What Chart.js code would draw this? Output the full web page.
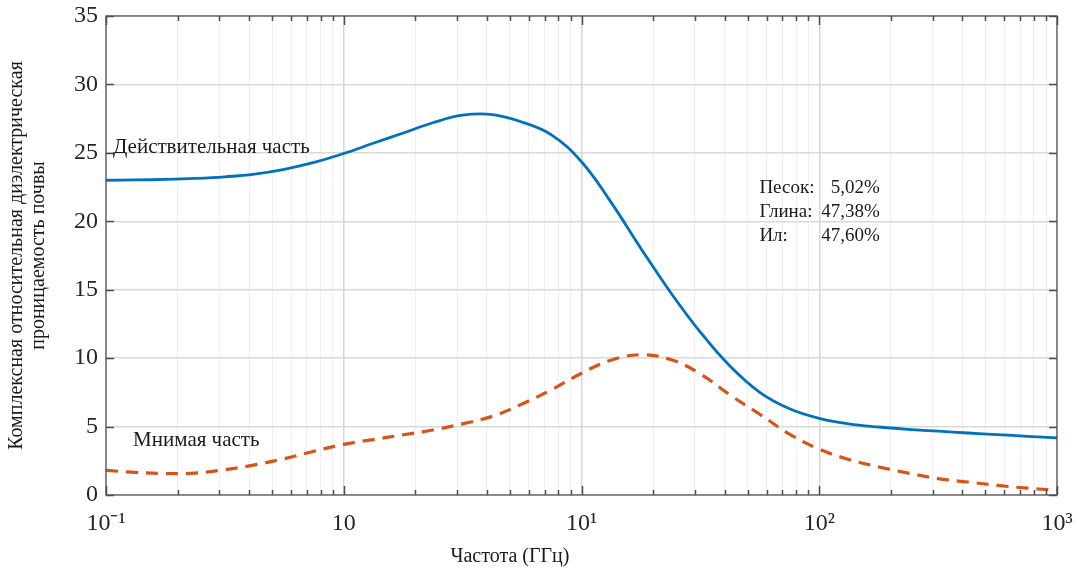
<!DOCTYPE html>
<html lang="ru">
<head>
<meta charset="utf-8">
<title>Диэлектрическая проницаемость почвы</title>
<script src="https://cdn.jsdelivr.net/npm/chart.js@4.4.0/dist/chart.umd.min.js"></script>
<style>
  html, body { margin: 0; padding: 0; background: #fff; }
  #chart { display: block; }
</style>
</head>
<body>
<canvas id="chart" width="1078" height="575"></canvas>
<script>
const freq = [0.1, 0.133, 0.178, 0.237, 0.316, 0.422, 0.562, 0.75, 1, 1.33, 1.78, 2.37, 3.16, 4.22, 5.62, 7.5,
  10, 13.3, 17.8, 23.7, 31.6, 42.2, 56.2, 75, 100, 133, 178, 237, 316, 422, 562, 750, 1000]
const realPart = [23.0, 23.02, 23.06, 23.13, 23.25, 23.45, 23.8, 24.3, 24.95, 25.7, 26.45, 27.2, 27.75, 27.8, 27.25, 26.3,
  24.35, 21.4, 18.0, 14.8, 11.9, 9.4, 7.5, 6.3, 5.6, 5.2, 4.97, 4.8, 4.66, 4.53, 4.41, 4.29, 4.17]
const imagPart = [1.8, 1.65, 1.57, 1.6, 1.85, 2.2, 2.65, 3.2, 3.7, 4.05, 4.4, 4.75, 5.2, 5.75, 6.65, 7.7,
  8.9, 9.85, 10.25, 9.9, 8.85, 7.3, 5.9, 4.45, 3.35, 2.6, 2.05, 1.6, 1.2, 0.95, 0.7, 0.5, 0.35]

const yTicks = [0, 5, 10, 15, 20, 25, 30, 35]
// подписи декад как на исходнике (у 10^0 стоит просто "10")
const xDecades = [0.1, 1, 10, 100, 1000]
const xDecadeLabels = ['10⁻¹', '10', '10¹', '10²', '10³']

const yTitle = ['Комплексная относительная диэлектрическая', 'проницаемость почвы']
const xTitle = 'Частота (ГГц)'

const soilNames = ['Песок:', 'Глина:', 'Ил:']
const soilValues = ['5,02%', '47,38%', '47,60%']

const serif = '"Liberation Serif", "Times New Roman", serif'

function toPoints(xs, ys) {
  return xs.map((x, i) => ({ x: x, y: ys[i] }))
}

function allLogTicks() {
  const res = []
  for (let d = -1; d < 3; d++) {
    for (let m = 1; m < 10; m++) {
      res.push({ value: +(m * Math.pow(10, d)).toPrecision(6), major: m === 1 })
    }
  }
  res.push({ value: 1000, major: true })
  return res
}

// рамка и внутренние засечки как в MATLAB
const boxPlugin = {
  id: 'boxPlugin',
  afterDraw(chart) {
    const { ctx, chartArea: a, scales } = chart
    ctx.save()
    ctx.strokeStyle = '#4d4d4d'
    ctx.lineWidth = 1.2
    ctx.strokeRect(a.left, a.top, a.right - a.left, a.bottom - a.top)
    ctx.beginPath()
    scales.x.ticks.forEach((t) => {
      const px = Math.round(scales.x.getPixelForValue(t.value)) + 0.5
      const len = t.major ? 9 : 5
      ctx.moveTo(px, a.bottom); ctx.lineTo(px, a.bottom - len)
      ctx.moveTo(px, a.top); ctx.lineTo(px, a.top + len)
    })
    scales.y.ticks.forEach((t) => {
      const py = Math.round(scales.y.getPixelForValue(t.value)) + 0.5
      ctx.moveTo(a.left, py); ctx.lineTo(a.left + 8, py)
      ctx.moveTo(a.right, py); ctx.lineTo(a.right - 8, py)
    })
    ctx.lineWidth = 1.5
    ctx.stroke()
    ctx.restore()
  }
}

// подписи кривых, состав почвы и заголовок оси X
const textPlugin = {
  id: 'textPlugin',
  afterDraw(chart) {
    const { ctx, scales } = chart
    const x = scales.x, y = scales.y
    ctx.save()
    ctx.fillStyle = '#1a1a1a'
    ctx.textBaseline = 'middle'
    ctx.textAlign = 'left'
    ctx.font = '21px ' + serif
    ctx.fillText('Действительная часть', x.getPixelForValue(0.107), y.getPixelForValue(25.4))
    ctx.fillText('Мнимая часть', x.getPixelForValue(0.13), y.getPixelForValue(4.0))

    ctx.font = '19px ' + serif
    const rows = [22.4, 20.65, 18.9]
    soilNames.forEach((name, i) => {
      ctx.textAlign = 'left'
      ctx.fillText(name, x.getPixelForValue(56), y.getPixelForValue(rows[i]))
      ctx.textAlign = 'right'
      ctx.fillText(soilValues[i], x.getPixelForValue(180), y.getPixelForValue(rows[i]))
    })

    ctx.textAlign = 'center'
    ctx.font = '20px ' + serif
    ctx.fillText(xTitle, x.getPixelForValue(5.0), 557)
    ctx.restore()
  }
}

new Chart(document.getElementById('chart'), {
  type: 'line',
  data: {
    datasets: [
      {
        label: 'Действительная часть',
        data: toPoints(freq, realPart),
        borderColor: '#0072BD',
        borderWidth: 2.8,
        pointRadius: 0,
        tension: 0.4,
      },
      {
        label: 'Мнимая часть',
        data: toPoints(freq, imagPart),
        borderColor: '#D95319',
        borderWidth: 3.2,
        borderDash: [12, 8],
        pointRadius: 0,
        tension: 0.4,
      },
    ],
  },
  options: {
    responsive: false,
    animation: false,
    devicePixelRatio: 1,
    layout: { padding: { left: 0, right: 21, top: 16, bottom: 0 } },
    plugins: {
      legend: { display: false },
      tooltip: { enabled: false },
    },
    scales: {
      x: {
        type: 'logarithmic',
        min: 0.1,
        max: 1000,
        afterBuildTicks: (scale) => { scale.ticks = allLogTicks() },
        afterFit: (scale) => {
          scale.height = 80
          scale.paddingLeft = 0
          scale.paddingRight = 0
        },
        border: { display: false },
        grid: {
          drawTicks: false,
          color: (c) => (c.tick && c.tick.major ? '#d6d6d6' : '#efefef'),
          lineWidth: (c) => (c.tick && c.tick.major ? 1.5 : 1),
        },
        ticks: {
          autoSkip: false,
          maxRotation: 0,
          padding: 14,
          color: '#262626',
          font: { family: serif, size: 24 },
          callback: (value) => {
            const i = xDecades.findIndex((d) => Math.abs(d - value) < 1e-9)
            return i >= 0 ? xDecadeLabels[i] : ''
          },
        },
      },
      y: {
        min: 0,
        max: 35,
        afterBuildTicks: (scale) => { scale.ticks = yTicks.map((v) => ({ value: v })) },
        afterFit: (scale) => {
          scale.width = 106
          scale.paddingTop = 0
          scale.paddingBottom = 0
        },
        border: { display: false },
        grid: { drawTicks: false, color: '#d9d9d9', lineWidth: 1.5 },
        ticks: {
          padding: 8,
          color: '#262626',
          font: { family: serif, size: 24 },
        },
        title: {
          display: true,
          text: yTitle,
          color: '#1a1a1a',
          font: { family: serif, size: 20, lineHeight: 1.1 },
          padding: { top: 6, bottom: 0 },
        },
      },
    },
  },
  plugins: [boxPlugin, textPlugin],
})
</script>
</body>
</html>
